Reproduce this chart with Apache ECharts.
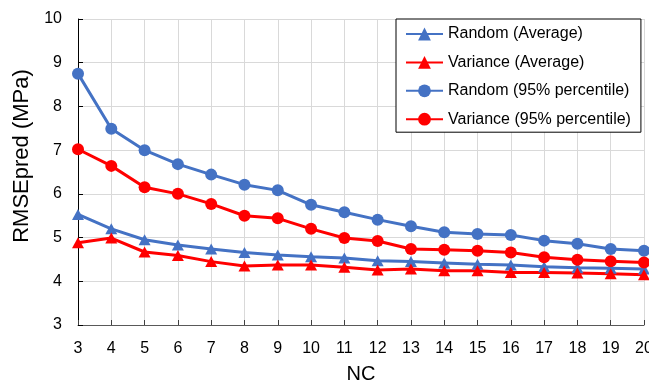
<!DOCTYPE html>
<html>
<head>
<meta charset="utf-8">
<script src="https://cdn.jsdelivr.net/npm/echarts@6/dist/echarts.min.js"></script>
<style>html,body{margin:0;padding:0;background:#fff;}#chart{width:649px;height:380px;}</style>
</head>
<body>
<div id="chart"></div>
<script>
const nc = [3,4,5,6,7,8,9,10,11,12,13,14,15,16,17,18,19,20];
const randomAvg = [5.53,5.20,4.95,4.83,4.74,4.66,4.60,4.56,4.53,4.47,4.45,4.42,4.39,4.37,4.33,4.31,4.30,4.28];
const varianceAvg = [4.88,4.99,4.67,4.59,4.45,4.35,4.37,4.37,4.32,4.26,4.28,4.24,4.24,4.20,4.20,4.19,4.17,4.15];
const random95 = [8.75,7.49,7.00,6.68,6.44,6.21,6.08,5.75,5.58,5.41,5.26,5.12,5.08,5.06,4.93,4.86,4.74,4.70];
const variance95 = [7.02,6.64,6.15,6.00,5.77,5.50,5.44,5.20,4.99,4.92,4.74,4.72,4.70,4.66,4.55,4.49,4.46,4.43];
const seriesNames = ['Random (Average)','Variance (Average)','Random (95% percentile)','Variance (95% percentile)'];
const yTicks = {min:3, max:10, interval:1};

const BLUE = '#4472C4', RED = '#FF0000';
const FONT = 'Liberation Sans, Arial, sans-serif';
function pairs(vals){ return nc.map((x,i)=>[x, vals[i]]); }
function mk(name, vals, color, symbol, size){
  return {name, type:'line', data:pairs(vals), symbol, symbolSize:size,
    lineStyle:{color, width:3}, itemStyle:{color}, animation:false};
}
const chart = echarts.init(document.getElementById('chart'));
chart.setOption({
  animation:false,
  grid:{left:78, right:5, top:19, bottom:55, containLabel:false, outerBoundsMode:'none'},
  legend:{
    orient:'vertical', left:396, top:19,
    data:seriesNames,
    itemWidth:37, itemHeight:16, itemGap:12.4,
    padding:[7,10,5,9],
    borderColor:'#000', borderWidth:1, backgroundColor:'#fff',
    textStyle:{fontFamily:FONT, fontSize:16, color:'#000'}
  },
  xAxis:{
    type:'value', min:3, max:20, interval:1,
    name:'NC', nameLocation:'middle', nameGap:39,
    nameTextStyle:{fontFamily:FONT, fontSize:20, color:'#000'},
    axisLine:{lineStyle:{color:'#595959', width:1}},
    axisTick:{inside:true, length:5, lineStyle:{color:'#404040'}},
    axisLabel:{fontFamily:FONT, fontSize:16, color:'#000', margin:16},
    splitLine:{show:true, lineStyle:{color:'#d9d9d9', width:1}}
  },
  yAxis:{
    type:'value', min:yTicks.min, max:yTicks.max, interval:yTicks.interval,
    name:'RMSEpred (MPa)', nameLocation:'middle', nameGap:41,
    nameTextStyle:{fontFamily:FONT, fontSize:22, color:'#000', padding:[0,0,0,32]},
    axisLine:{show:true, lineStyle:{color:'#000', width:1}},
    axisTick:{show:true, inside:true, length:5, lineStyle:{color:'#000'}},
    axisLabel:{fontFamily:FONT, fontSize:16, color:'#000', margin:16},
    splitLine:{show:true, lineStyle:{color:'#d9d9d9', width:1}}
  },
  series:[
    mk(seriesNames[0], randomAvg, BLUE, 'triangle', [12,11]),
    mk(seriesNames[1], varianceAvg, RED, 'triangle', [12,11]),
    mk(seriesNames[2], random95, BLUE, 'circle', 12),
    mk(seriesNames[3], variance95, RED, 'circle', 12)
  ]
});
</script>
</body>
</html>
